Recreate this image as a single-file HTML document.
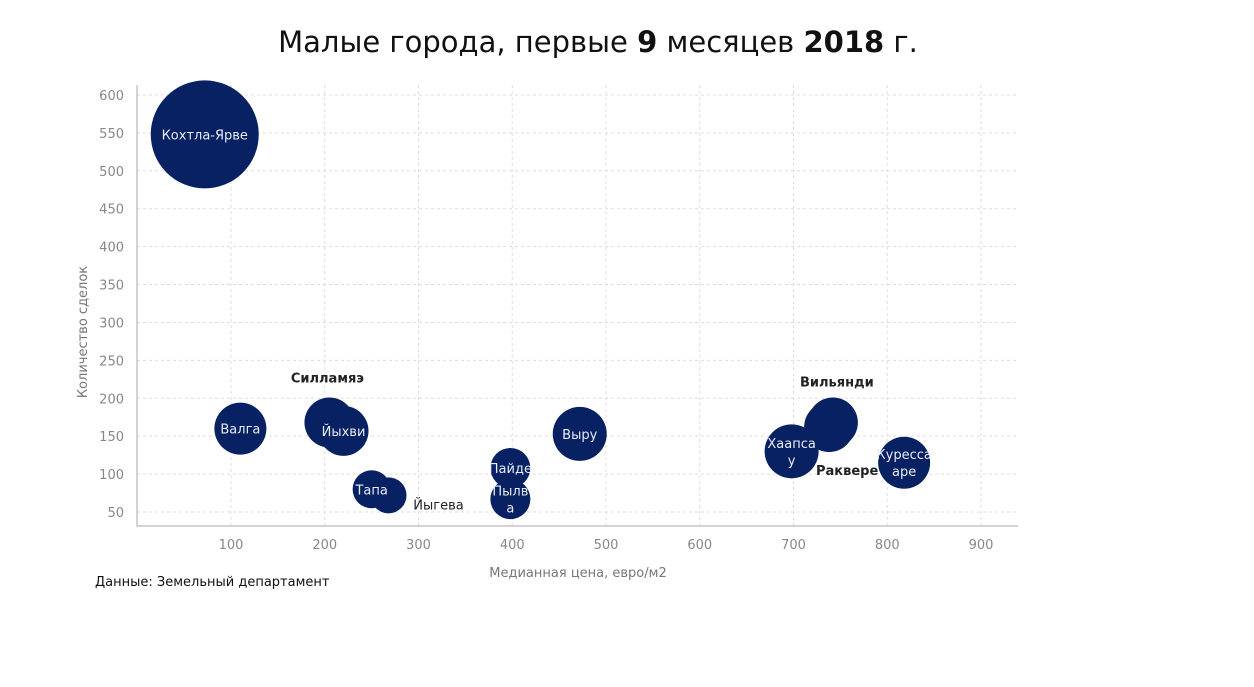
<!DOCTYPE html>
<html><head><meta charset="utf-8">
<style>
body{margin:0;background:#fff;font-family:"Liberation Sans","DejaVu Sans",sans-serif;}
svg text{font-family:"DejaVu Sans","Liberation Sans",sans-serif;}
</style></head>
<body>
<svg id="c" width="1254" height="682" xmlns="http://www.w3.org/2000/svg">
<text x="598" y="52" text-anchor="middle" font-size="29" fill="#111">Малые города, первые <tspan font-weight="bold">9</tspan> месяцев <tspan font-weight="bold">2018</tspan> г.</text>
<g id="grid"></g><g id="axes"></g><g id="bubbles"></g>
<text x="578" y="577" text-anchor="middle" font-size="13" fill="#777">Медианная цена, евро/м2</text>
<text transform="translate(87,332) rotate(-90)" text-anchor="middle" font-size="13" fill="#777">Количество сделок</text>
<text x="95" y="586" font-size="13" fill="#111">Данные: Земельный департамент</text>
</svg>
<script>
const cities=["Кохтла-Ярве","Валга","Силламяэ","Йыхви","Тапа","Йыгева","Пайде","Пылва","Выру","Хаапсалу","Раквере","Вильянди","Курессааре"];
const prices=[72,110,205,220,250,268,398,398,472,698,738,742,818];
const deals=[548,160,168,157,80,72,108,67,153,130,162,168,115];
const sizes=[54,26,25,25,19,18,20,20,27,27,25,25,26];
const xTicks=[100,200,300,400,500,600,700,800,900];
const yTicks=[50,100,150,200,250,300,350,400,450,500,550,600];
const X=v=>137.25+v*0.9375, Y=v=>512-(v-50)*0.7582;
const NS="http://www.w3.org/2000/svg";
function mk(tag,attrs,parent,txt){const e=document.createElementNS(NS,tag);for(const k in attrs)e.setAttribute(k,attrs[k]);if(txt!==undefined)e.textContent=txt;parent.appendChild(e);return e;}
const grid=document.getElementById('grid'),axes=document.getElementById('axes'),bub=document.getElementById('bubbles');
xTicks.forEach(t=>{const l=mk('line',{x1:X(t),x2:X(t),y1:85,y2:526,stroke:'#ddd','stroke-dasharray':'3,3'},grid);


const tx=mk('text',{x:X(t),y:549,'text-anchor':'middle','font-size':13,fill:'#888'},axes,t);

});
yTicks.forEach(t=>{const l=mk('line',{x1:137,x2:1018,y1:Y(t),y2:Y(t),stroke:'#ddd','stroke-dasharray':'3,3'},grid);


const tx=mk('text',{x:124,y:Y(t)+5,'text-anchor':'end','font-size':13,fill:'#888'},axes,t);

});
const ax=mk('path',{d:'M137,85V526H1018',stroke:'#aaa',fill:'none'},axes);


const inside={"Кохтла-Ярве":["Кохтла-Ярве"],"Валга":["Валга"],"Йыхви":["Йыхви"],"Тапа":["Тапа"],"Пайде":["Пайде"],"Пылва":["Пылв","а"],"Выру":["Выру"],"Хаапсалу":["Хаапса","у"],"Курессааре":["Куресса","аре"]};
const outside={"Силламяэ":[-2,-40],"Йыгева":[50,14],"Раквере":[18,48],"Вильянди":[4,-36]};
cities.forEach((c,i)=>{const cx=X(prices[i]),cy=Y(deals[i]);
const ci=mk('circle',{cx:cx,cy:cy,r:sizes[i],fill:'#072163'},bub);

});
cities.forEach((c,i)=>{const cx=X(prices[i]),cy=Y(deals[i]);
if(inside[c]){const lines=inside[c];lines.forEach((s,j)=>{const t=mk('text',{x:cx,y:cy+5+(j-(lines.length-1)/2)*17,'text-anchor':'middle','font-size':13,fill:'#e8ecf5'},bub,s);

});}
else{const o=outside[c];const t=mk('text',{x:cx+o[0],y:cy+o[1],'text-anchor':'middle','font-size':13,fill:'#222','font-weight':c=='Йыгева'?'normal':'bold'},bub,c);

}});
</script>
</body></html>
